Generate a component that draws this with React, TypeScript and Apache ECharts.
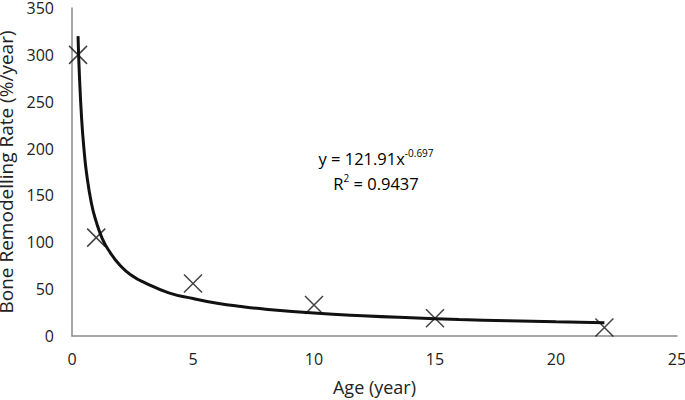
import React, { useEffect, useRef } from "react";
import * as echarts from "echarts";

// Measured data points (age in years, remodelling rate %/year)
const ages = [0.25, 1, 5, 10, 15, 22];
const rates = [300, 105, 56, 33, 19, 9];

// Power trend line
const trendX = [0.25, 0.3, 0.4, 0.5, 0.6, 0.8, 1, 1.25, 1.5, 2, 2.5, 3, 4, 5, 6, 7, 8, 10, 12, 14, 16, 18, 20, 22];
const trendY = [320, 282, 231, 198, 174, 142, 122, 104, 92, 75, 64, 57, 46, 40, 35, 31.4, 28.6, 24.5, 21.6, 19.4, 17.6, 16.3, 15.1, 14.1];

const xTicks = [0, 5, 10, 15, 20, 25];
const yTicks = [0, 50, 100, 150, 200, 250, 300, 350];

const FONT = "Open Sans";

export default function App() {
  const ref = useRef<HTMLDivElement>(null);
  useEffect(() => {
    if (!ref.current) return;
    const chart = echarts.init(ref.current, null, { renderer: "svg" });
    chart.setOption({
      animation: false,
      backgroundColor: "#fff",
      grid: { left: 72, right: 23, top: 8, bottom: 64, outerBoundsMode: "none", containLabel: false },
      xAxis: {
        type: "value",
        min: xTicks[0],
        max: xTicks[xTicks.length - 1],
        interval: 5,
        name: "Age (year)",
        nameLocation: "middle",
        nameGap: 42,
        nameTextStyle: { fontFamily: FONT, fontSize: 18, color: "#222" },
        axisLine: { show: true, lineStyle: { color: "#8a8a8a", width: 1.5 } },
        axisTick: { show: false },
        splitLine: { show: false },
        axisLabel: {
          fontFamily: FONT,
          fontSize: 16,
          color: "#222",
          margin: 15,
          alignMinLabel: "center",
          alignMaxLabel: "center",
          showMaxLabel: true,
          hideOverlap: false,
        },
      },
      yAxis: {
        type: "value",
        min: yTicks[0],
        max: yTicks[yTicks.length - 1],
        interval: 50,
        name: "Bone Remodelling Rate (%/year)",
        nameLocation: "middle",
        nameGap: 55,
        nameTextStyle: { fontFamily: FONT, fontSize: 19, color: "#222" },
        axisLine: { show: true, lineStyle: { color: "#8a8a8a", width: 1.5 } },
        axisTick: { show: false },
        splitLine: { show: false },
        axisLabel: { fontFamily: FONT, fontSize: 16, color: "#222", margin: 18 },
      },
      series: [
        {
          type: "line",
          data: trendX.map((x, i) => [x, trendY[i]]),
          smooth: true,
          showSymbol: false,
          symbol: "none",
          lineStyle: { color: "#111", width: 3 },
          z: 2,
        },
        {
          type: "scatter",
          data: ages.map((x, i) => [x, rates[i]]),
          symbol: "path://M0,0L10,10M10,0L0,10",
          symbolSize: 18,
          itemStyle: { color: "transparent", borderColor: "#111", borderWidth: 1.5 },
          z: 3,
        },
      ],
      graphic: [
        {
          type: "text",
          x: 376,
          y: 158,
          style: {
            text: "{b|y = 121.91x}{s|-0.697}",
            align: "center",
            verticalAlign: "middle",
            rich: {
              b: { fontFamily: FONT, fontSize: 16.5, color: "#222" },
              s: { fontFamily: FONT, fontSize: 10, color: "#222", padding: [0, 0, 10, 0] },
            },
          },
        },
        {
          type: "text",
          x: 376,
          y: 183,
          style: {
            text: "{b|R}{s|2}{b| = 0.9437}",
            align: "center",
            verticalAlign: "middle",
            rich: {
              b: { fontFamily: FONT, fontSize: 16.5, color: "#222" },
              s: { fontFamily: FONT, fontSize: 10, color: "#222", padding: [0, 0, 10, 0] },
            },
          },
        },
      ],
    });
    return () => chart.dispose();
  }, []);
  return (
    <div style={{ width: 685, height: 400, position: "absolute", left: 0, top: 0, overflow: "hidden", background: "#fff" }}>
      <div ref={ref} style={{ width: 700, height: 400 }} />
    </div>
  );
}
